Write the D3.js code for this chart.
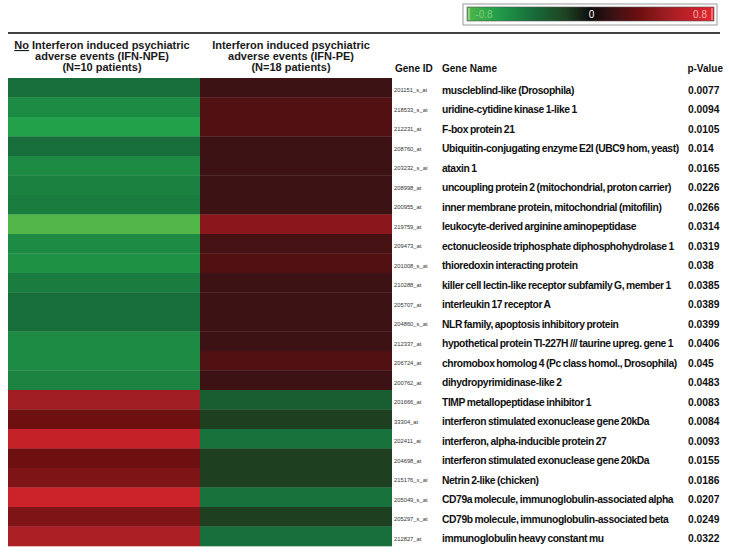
<!DOCTYPE html>
<html><head><meta charset="utf-8">
<script src="https://cdn.jsdelivr.net/npm/d3@7/dist/d3.min.js"></script>
<style>
html,body{margin:0;padding:0;background:#fff;}
svg{display:block;font-family:"Liberation Sans",Arial,sans-serif;}
</style></head>
<body><svg id="chart" width="729" height="553"></svg>
<script>
const geneIds = ["201151_s_at","218533_s_at","212231_at","208760_at","203232_s_at","208998_at","200955_at","219759_at","209473_at","201008_s_at","210288_at","205707_at","204860_s_at","212337_at","206724_at","200762_at","201666_at","33304_at","202411_at","204698_at","215176_x_at","205049_s_at","205297_s_at","212827_at"];
const geneNames = ["muscleblind-like (Drosophila)","uridine-cytidine kinase 1-like 1","F-box protein 21","Ubiquitin-conjugating enzyme E2I (UBC9 hom, yeast)","ataxin 1","uncoupling protein 2 (mitochondrial, proton carrier)","inner membrane protein, mitochondrial (mitofilin)","leukocyte-derived arginine aminopeptidase","ectonucleoside triphosphate diphosphohydrolase 1","thioredoxin interacting protein","killer cell lectin-like receptor subfamily G, member 1","interleukin 17 receptor A","NLR family, apoptosis inhibitory protein","hypothetical protein TI-227H /// taurine upreg. gene 1","chromobox homolog 4 (Pc class homol., Drosophila)","dihydropyrimidinase-like 2","TIMP metallopeptidase inhibitor 1","interferon stimulated exonuclease gene 20kDa","interferon, alpha-inducible protein 27","interferon stimulated exonuclease gene 20kDa","Netrin 2-like (chicken)","CD79a molecule, immunoglobulin-associated alpha","CD79b molecule, immunoglobulin-associated beta","immunoglobulin heavy constant mu"];
const pValues = ["0.0077","0.0094","0.0105","0.014","0.0165","0.0226","0.0266","0.0314","0.0319","0.038","0.0385","0.0389","0.0399","0.0406","0.045","0.0483","0.0083","0.0084","0.0093","0.0155","0.0186","0.0207","0.0249","0.0322"];
const npeValues = [-0.38,-0.52,-0.62,-0.38,-0.52,-0.47,-0.45,-0.8,-0.52,-0.55,-0.45,-0.38,-0.38,-0.52,-0.52,-0.48,0.5,0.32,0.65,0.32,0.38,0.68,0.38,0.55];
const peValues = [0.15,0.22,0.22,0.15,0.15,0.15,0.15,0.42,0.18,0.22,0.15,0.15,0.15,0.15,0.22,0.15,-0.3,-0.15,-0.4,-0.15,-0.15,-0.4,-0.15,-0.38];
const groups = ["IFN-NPE","IFN-PE"];
const legendTicks = [-0.8, 0, 0.8];
const legendLabels = ["-0.8", "0", "0.8"];

const color = d3.scaleLinear()
  .domain([-0.8,-0.62,-0.38,-0.15,0,0.15,0.32,0.5,0.68,0.8])
  .range(["#52b748","#22a04a","#176e3a","#1e4020","#0c0c0c","#3c1214","#6e0f10","#a01e23","#cc2229","#e4262c"])
  .clamp(true);

const svg = d3.select("#chart");

// heatmap scales
const x = d3.scaleBand().domain(groups).range([8, 392]);
const y = d3.scaleBand().domain(geneIds).range([78, 546]);

const cells = [];
geneIds.forEach((g,i)=>{
  cells.push({g, grp:groups[0], v:npeValues[i]});
  cells.push({g, grp:groups[1], v:peValues[i]});
});
svg.append("g").selectAll("rect").data(cells).join("rect")
  .attr("x", d=>x(d.grp)).attr("y", d=>y(d.g))
  .attr("width", x.bandwidth()).attr("height", y.bandwidth()+0.3)
  .attr("fill", d=>color(d.v));

// top rule
svg.append("line").attr("x1",8).attr("x2",720).attr("y1",33).attr("y2",33)
  .attr("stroke","#000").attr("stroke-width",1.5);

// column headers
const hdr1 = svg.append("text").attr("text-anchor","middle").attr("font-weight","bold")
  .attr("font-size","11px").attr("fill","#1a1a1a");
const h1x = x(groups[0]) + x.bandwidth()/2 - 2;
const t1 = hdr1.append("tspan").attr("x",h1x).attr("y",49);
t1.append("tspan").attr("text-decoration","underline").text("No");
t1.append("tspan").text(" Interferon induced psychiatric");
hdr1.append("tspan").attr("x",h1x).attr("y",60).text("adverse events (IFN-NPE)");
hdr1.append("tspan").attr("x",h1x).attr("y",71).text("(N=10 patients)");

const h2x = x(groups[1]) + x.bandwidth()/2 - 5;
const hdr2 = svg.append("text").attr("text-anchor","middle").attr("font-weight","bold")
  .attr("font-size","11px").attr("fill","#1a1a1a");
hdr2.append("tspan").attr("x",h2x).attr("y",49).text("Interferon induced psychiatric");
hdr2.append("tspan").attr("x",h2x).attr("y",60).text("adverse events (IFN-PE)");
hdr2.append("tspan").attr("x",h2x).attr("y",71).text("(N=18 patients)");

// table headers
const th = svg.append("g").attr("font-weight","bold").attr("font-size","10px").attr("fill","#111");
th.append("text").attr("x",395).attr("y",72).text("Gene ID");
th.append("text").attr("x",442).attr("y",72).text("Gene Name");
th.append("text").attr("x",723).attr("y",72).attr("text-anchor","end").text("p-Value");

// rows text
const rowY = g => y(g) + y.bandwidth()/2 + 2.5;
svg.append("g").selectAll("text").data(geneIds).join("text")
  .attr("x",394).attr("y",rowY).attr("dy","0.35em")
  .attr("font-size","5.8px").attr("fill","#333").text(d=>d);
svg.append("g").selectAll("text").data(geneIds).join("text")
  .attr("x",442).attr("y",rowY).attr("dy","0.35em")
  .attr("font-size","10.3px").attr("font-weight","bold")
  .attr("letter-spacing","-0.4px").attr("word-spacing","-0.6px")
  .attr("fill","#111").text((d,i)=>geneNames[i]);
svg.append("g").selectAll("text").data(geneIds).join("text")
  .attr("x",688).attr("y",rowY).attr("dy","0.35em")
  .attr("font-size","10.3px").attr("font-weight","bold")
  .attr("fill","#111").text((d,i)=>pValues[i]);

// legend
const lg = svg.append("g");
const defs = svg.append("defs");
const grad = defs.append("linearGradient").attr("id","lgrad");
const lx = d3.scaleLinear().domain([-0.8,0.8]).range([467,714]);
d3.range(0,21).forEach(k=>{
  const v = -0.8 + 1.6*k/20;
  grad.append("stop").attr("offset",(k/20*100)+"%").attr("stop-color",color(v));
});
lg.append("rect").attr("x",463).attr("y",4).attr("width",254).attr("height",21)
  .attr("fill","#fff").attr("stroke","#9a9a9a").attr("stroke-width",1);
lg.append("rect").attr("x",lx(-0.8)).attr("y",7).attr("width",lx(0.8)-lx(-0.8)).attr("height",14)
  .attr("fill","url(#lgrad)").attr("stroke","#555").attr("stroke-width",0.6);
lg.append("line").attr("x1",lx(-0.8)+2).attr("x2",lx(-0.8)+2).attr("y1",8).attr("y2",20)
  .attr("stroke","#cfe8cf").attr("stroke-width",1);
lg.append("line").attr("x1",lx(0.8)-2).attr("x2",lx(0.8)-2).attr("y1",8).attr("y2",20)
  .attr("stroke","#f4c0c0").attr("stroke-width",1);
const labColor = v => v<0 ? "#7fcc7f" : (v>0 ? "#f4b0b0" : "#fff");
lg.selectAll("text.lt").data(legendTicks).join("text").attr("class","lt")
  .attr("x", d=> d<0 ? lx(d)+17 : (d>0 ? lx(d)-14 : lx(d)+1))
  .attr("y",18).attr("text-anchor","middle").attr("font-size","10px")
  .attr("fill",labColor).text((d,i)=>legendLabels[i]);
</script>
</body></html>
